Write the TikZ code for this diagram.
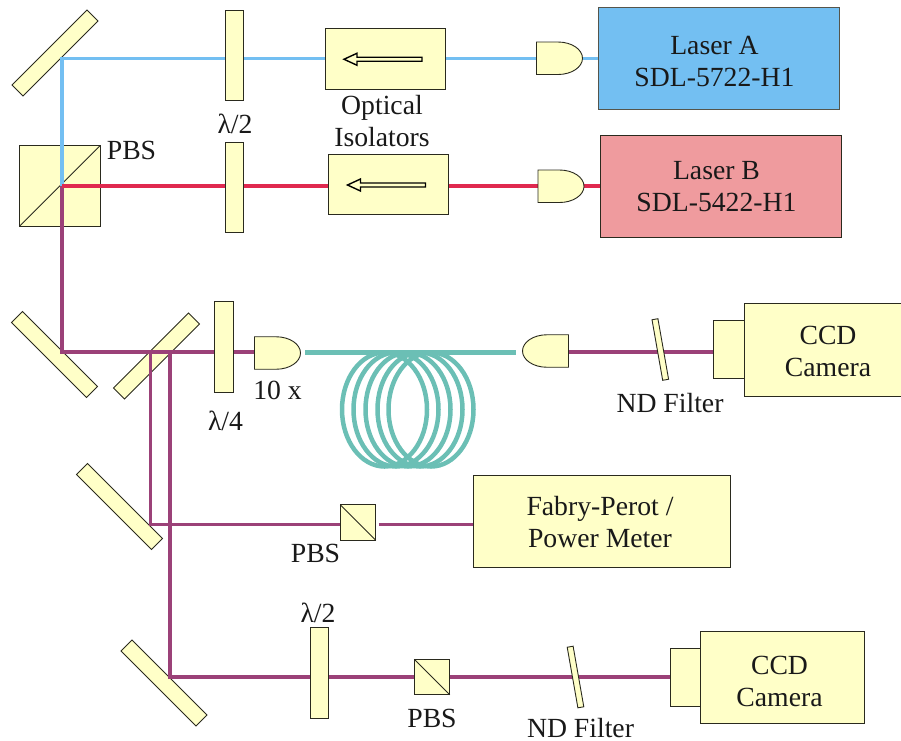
\documentclass[tikz,border=0pt]{standalone}
\usepackage{fontspec}
\setmainfont{Liberation Serif}
\usetikzlibrary{calc}
\pgfdeclarelayer{back}
\pgfdeclarelayer{beams}
\pgfsetlayers{back,beams,main}
\definecolor{optic}{HTML}{FFFFC8}
\definecolor{laserblue}{HTML}{73BFF2}
\definecolor{laserpink}{HTML}{EF9B9E}
\definecolor{beamred}{HTML}{E0294F}
\definecolor{beampurple}{HTML}{9B4178}
\definecolor{fibreteal}{HTML}{6BBFB5}
\definecolor{edge}{HTML}{2A2A1E}
\tikzset{
  part/.style={draw=edge,line width=0.9pt,fill=optic,rectangle,inner sep=0pt,outer sep=0pt},
  laserA/.style={draw=edge!80,line width=0.9pt,fill=laserblue,rectangle,inner sep=0pt,outer sep=0pt},
  laserB/.style={draw=edge,line width=0.9pt,fill=laserpink,rectangle,inner sep=0pt,outer sep=0pt},
  lbl/.style={inner sep=0pt,outer sep=0pt,font=\fontsize{27.7}{32}\selectfont,align=center,text=black!90},
  base lbl/.style={lbl,anchor=base},
  ghost/.style={inner sep=0pt,outer sep=0pt,rectangle},
  bluebeam/.style={draw=laserblue,line width=3.6pt},
  redbeam/.style={draw=beamred,line width=4pt},
  purplebeam/.style={draw=beampurple,line width=3.6pt},
  fibre/.style={draw=fibreteal,line width=4.5pt},
  loop/.style={fibre,x radius=42.5,y radius=57},
  hollow/.style={draw=black,line width=1.4pt,fill=optic,line join=miter},
  dome/.style={part},
  ndfilter/.style={part,minimum width=6,minimum height=61.5,rotate=10},
}
% name, centre x, centre y, width, height, rotation
\newcommand{\optic}[6]{\node[part,minimum width=#4,minimum height=#5,rotate=#6] (#1) at (#2,#3) {};}
% lens with flat side on the left / right
\newcommand{\lensR}[3]{\node[ghost,minimum width=46,minimum height=32.5] (#1) at (#2,#3) {};
  \draw[dome] (#1.south west) -- (#1.north west) -- ++(21.5,0) arc[start angle=-90,end angle=90,x radius=24.5,y radius=16.25] -- cycle;}
\newcommand{\lensL}[3]{\node[ghost,minimum width=46,minimum height=32.5] (#1) at (#2,#3) {};
  \draw[dome] (#1.south east) -- (#1.north east) -- ++(-21.5,0) arc[start angle=-90,end angle=-270,x radius=24.5,y radius=16.25] -- cycle;}
\newcommand{\isoarrow}[1]{\draw[hollow] ($(#1)+(19,0.5)$) -- ++(13,-6) -- ++(0,4) -- ++(65,0) -- ++(0,4) -- ++(-65,0) -- ++(0,4) -- cycle;}
\begin{document}
\begin{tikzpicture}[x=1pt,y=-1pt]
\useasboundingbox (0,0) rectangle (901,740);
% rows of the optical table
\coordinate (rowA) at (62,58.5);
\coordinate (rowB) at (62,186);
\coordinate (rowC) at (62,352);
\coordinate (split1) at (150.5,352);
\coordinate (split2) at (170,352);
\coordinate (rowD) at (150.5,524.5);
\coordinate (rowE) at (170,677);
% mirrors and big cube
\begin{pgfonlayer}{back}
\optic{m1}{55}{53}{106}{15.5}{45}
\optic{m2}{54.5}{354.5}{106}{15.5}{-45}
\optic{m3}{156.5}{356}{106}{15.5}{45}
\optic{m4}{119.5}{506.5}{106}{15.5}{-45}
\optic{m5}{164}{683}{106}{15.5}{-45}
\optic{pbsA}{60}{185.75}{80.5}{80.5}{0}
\draw[edge,line width=0.9pt] (pbsA.south west) -- (pbsA.north east);
\end{pgfonlayer}
% components
\optic{hwA}{234}{55}{18}{90}{0}
\optic{hwB}{234}{187}{18}{90}{0}
\node[part,minimum width=120,minimum height=60.5] (isoA) at (385,58.75) {};
\node[part,minimum width=120,minimum height=60.5] (isoB) at (388.5,184.5) {};
\lensR{lensA}{559.5}{58.25}
\lensR{lensB}{561}{186.25}
\node[laserA,minimum width=240.5,minimum height=102] (laserAbox) at (718.75,58.5) {};
\node[laserB,minimum width=241,minimum height=102] (laserBbox) at (720.5,186) {};
\optic{qw}{223.75}{346.75}{18.5}{90.5}{0}
\lensR{lensC}{277.5}{353}
\lensL{lensD}{545.5}{351}
\node[ndfilter] (ndA) at (660.3,349.5) {};
\node[part,minimum width=31,minimum height=58] (camAfront) at (728.5,349.75) {};
\node[part,minimum width=157,minimum height=93] (camAbody) at (822.5,349.5) {};
\optic{pbsB}{358}{522.5}{35.5}{35.5}{0}
\draw[edge,line width=0.9pt] (pbsB.north west) -- (pbsB.south east);
\node[part,minimum width=257,minimum height=91.5] (fabry) at (601.5,521.5) {};
\optic{hwC}{319}{672.75}{18}{90.5}{0}
\optic{pbsC}{432}{677}{35.5}{35.5}{0}
\draw[edge,line width=0.9pt] (pbsC.north west) -- (pbsC.south east);
\node[ndfilter] (ndB) at (575.5,677) {};
\node[part,minimum width=30,minimum height=58] (camBfront) at (685,677) {};
\node[part,minimum width=164,minimum height=92] (camBbody) at (782,677) {};
\isoarrow{isoA.west}
\isoarrow{isoB.west}
\begin{pgfonlayer}{beams}
% beams: blue
\draw[bluebeam] (laserAbox.west |- rowA) -- (lensA.east |- rowA);
\draw[bluebeam] (lensA.west |- rowA) -- (isoA.east |- rowA);
\draw[bluebeam] (isoA.west |- rowA) -- (hwA.east |- rowA);
\draw[bluebeam] (hwA.west |- rowA) -- (rowA) -- (rowB);
% beams: purple
\draw[purplebeam] (rowB) -- (rowC) -- (qw.west |- rowC);
\draw[purplebeam] (qw.east |- rowC) -- (lensC.west |- rowC);
\draw[purplebeam] (split1) -- (rowD) -- (pbsB.west |- rowD);
\draw[purplebeam] (pbsB.east |- rowD) ++(3,0) -- (fabry.west |- rowD);
\draw[purplebeam] (split2) -- (rowE) -- (hwC.west |- rowE);
\draw[purplebeam] (hwC.east |- rowE) -- (pbsC.west |- rowE);
\draw[purplebeam] (pbsC.east |- rowE) -- (camBfront.west |- rowE);
\draw[purplebeam] (lensD.east |- rowC) -- (camAfront.west |- rowC);
% beams: red
\draw[redbeam] (laserBbox.west |- rowB) -- (lensB.east |- rowB);
\draw[redbeam] (lensB.west |- rowB) -- (isoB.east |- rowB);
\draw[redbeam] (isoB.west |- rowB) -- (hwB.east |- rowB);
\draw[redbeam] (hwB.west |- rowB) -- (rowB);
\end{pgfonlayer}
% fibre
\coordinate (fibreA) at (305,352.7);
\coordinate (fibreB) at (516,352.7);
\draw[fibre] (fibreA) -- (fibreB);
\foreach \cx in {384.5,396,408,420,431}{\draw[loop] (\cx,409.5) ellipse[];}
% labels
\node[lbl] (tIso) at (382,121.5) {Optical\\Isolators};
\node[base lbl] (tHwA) at (235,133.5) {λ/2};
\node[base lbl] (tPbsA) at (131.5,159) {PBS};
\node[lbl] (tLaserA) at (714.5,61.5) {Laser A\\SDL-5722-H1};
\node[lbl] (tLaserB) at (716.5,186.5) {Laser B\\SDL-5422-H1};
\node[base lbl] (tLens) at (277.5,399) {10 x};
\node[base lbl] (tQw) at (225.5,430) {λ/4};
\node[base lbl] (tNdA) at (670,412) {ND Filter};
\node[lbl] (tCamA) at (828,351) {CCD\\Camera};
\node[base lbl] (tPbsB) at (315.5,562) {PBS};
\node[lbl] (tFabry) at (600,522.5) {Fabry-Perot /\\Power Meter};
\node[base lbl] (tHwC) at (318,622) {λ/2};
\node[base lbl] (tPbsC) at (432,727) {PBS};
\node[base lbl] (tNdB) at (580.5,737) {ND Filter};
\node[lbl] (tCamB) at (779.5,681.5) {CCD\\Camera};
\end{tikzpicture}
\end{document}
